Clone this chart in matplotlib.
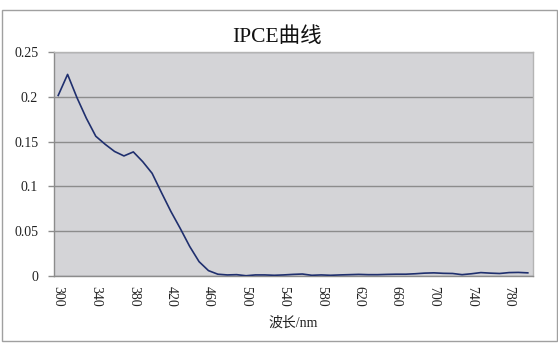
import matplotlib
matplotlib.use('Agg')

import matplotlib.pyplot as plt
from matplotlib.patches import Rectangle

# wavelength categories (nm) and IPCE values
wavelength = [300, 310, 320, 330, 340, 350, 360, 370, 380, 390,
              400, 410, 420, 430, 440, 450, 460, 470, 480, 490,
              500, 510, 520, 530, 540, 550, 560, 570, 580, 590,
              600, 610, 620, 630, 640, 650, 660, 670, 680, 690,
              700, 710, 720, 730, 740, 750, 760, 770, 780, 790,
              800]
ipce = [0.2015, 0.2250, 0.1990, 0.1760, 0.1560, 0.1470, 0.1390, 0.1340, 0.1385, 0.1276,
        0.1146, 0.0930, 0.0720, 0.0530, 0.0330, 0.0160, 0.0060, 0.0020, 0.0012, 0.0015,
        0.0003, 0.0012, 0.0012, 0.0008, 0.0012, 0.0018, 0.0022, 0.0008, 0.0012, 0.0008,
        0.0012, 0.0015, 0.0018, 0.0015, 0.0015, 0.0018, 0.0020, 0.0020, 0.0025, 0.0032,
        0.0035, 0.0030, 0.0028, 0.0015, 0.0025, 0.0038, 0.0032, 0.0028, 0.0038, 0.0040,
        0.0035]
y_ticks = [0, 0.05, 0.1, 0.15, 0.2, 0.25]
y_tick_labels = ["0", "0.05", "0.1", "0.15", "0.2", "0.25"]

title = "IPCE曲线"
x_label = "波长/nm"

serif = ['Liberation Serif', 'Noto Sans CJK SC']

fig = plt.figure(figsize=(5.58, 3.54), dpi=100)

# outer chart border
fig.add_artist(Rectangle((1.5 / 558, 1 - 341 / 354), 555 / 558, 331 / 354,
                         transform=fig.transFigure, fill=False,
                         edgecolor='#a0a0a0', linewidth=1.0))

ax = fig.add_axes([53.5 / 558, 1 - 276 / 354, 479 / 558, 224 / 354])
ax.set_facecolor('#d4d4d7')

x = list(range(len(wavelength)))
ax.plot(x, ipce, color='#1f2f6e', linewidth=1.2, zorder=3)

ax.set_xlim(-0.5, len(wavelength) - 0.5)
ax.set_ylim(0, 0.25)

ax.set_yticks(y_ticks)
ax.set_yticklabels(y_tick_labels, fontfamily=serif, fontsize=10, color='#222222')
ax.set_xticks(x[::4])
ax.set_xticklabels([str(w) for w in wavelength[::4]], rotation=-90,
                   fontfamily=serif, fontsize=10, color='#222222')

ax.tick_params(axis='y', length=4, width=1, color='#8c8c8c', pad=7)
ax.tick_params(axis='x', length=0, pad=7)

ax.grid(axis='y', color='#8c8c8c', linewidth=1.0)
ax.set_axisbelow(True)

for side in ['top', 'right']:
    ax.spines[side].set_color('#b4b4b4')
    ax.spines[side].set_linewidth(1.0)
for side in ['left', 'bottom']:
    ax.spines[side].set_color('#8c8c8c')
    ax.spines[side].set_linewidth(1.0)

fig.text(277 / 558, 1 - 37 / 354, title, ha='center', va='center',
         fontfamily=serif, fontsize=15.5, color='#111111')
fig.text(293 / 558, 1 - 323 / 354, x_label, ha='center', va='center',
         fontfamily=serif, fontsize=10, color='#222222')

fig.savefig('out.png', dpi=100, facecolor='white')
